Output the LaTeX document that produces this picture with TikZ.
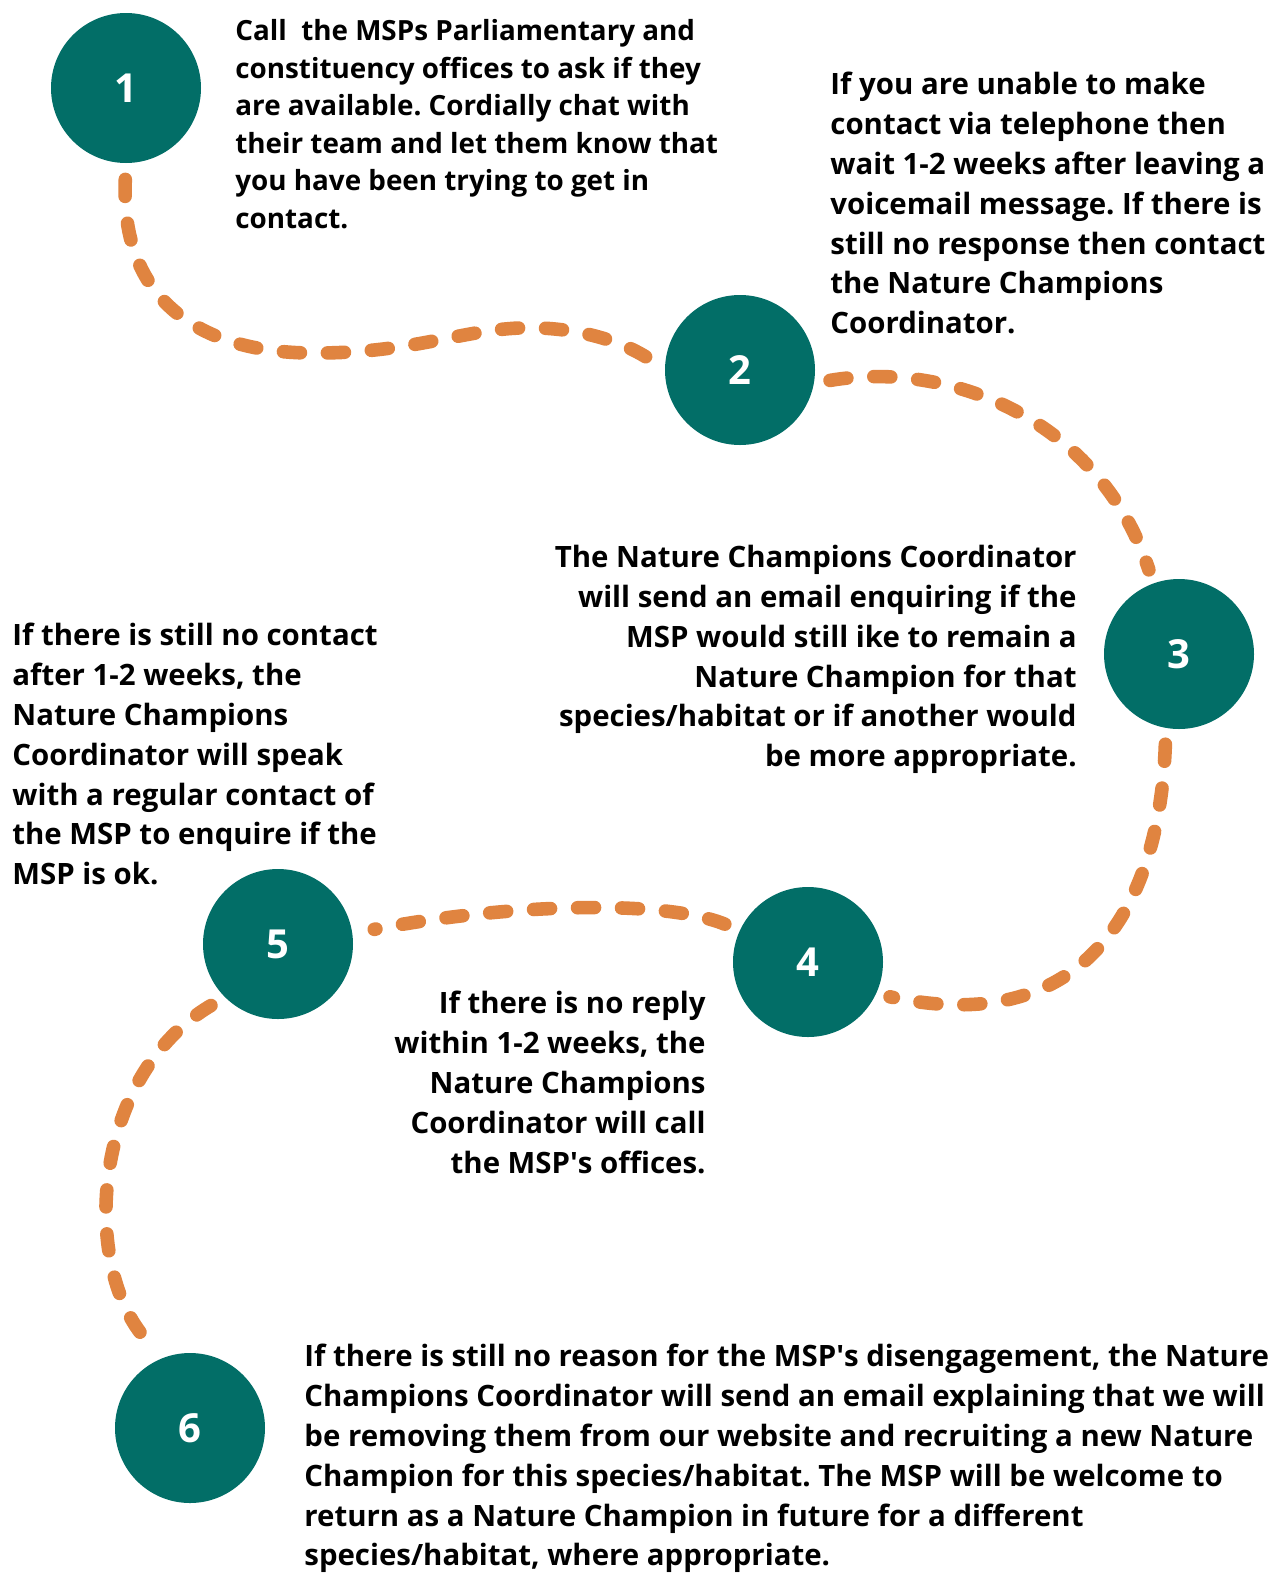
\documentclass[tikz,border=0pt]{standalone}
\usepackage{fontspec}
\setmainfont{Open Sans}
\definecolor{stepteal}{RGB}{2,110,103}
\definecolor{trailorange}{RGB}{224,132,64}
\begin{document}
\frenchspacing
\begin{tikzpicture}[x=0.5pt,y=-0.5pt,
  stepdot/.style={circle, fill=stepteal, minimum size=75pt, inner sep=0pt,
    text=white, font=\fontsize{20pt}{24pt}\selectfont\bfseries},
  trail/.style={draw=trailorange, line width=6.8pt, line cap=round,
    dash pattern=on 8.5pt off 13.5pt, shorten <=8pt, shorten >=7pt},
  para/.style={inner sep=0pt, text=black,
    font=\fontsize{14.7pt}{19.9pt}\selectfont\bfseries},
  parasmall/.style={inner sep=0pt, text=black,
    font=\fontsize{13.9pt}{18.8pt}\selectfont\bfseries}]
\useasboundingbox (0,0) rectangle (1282,1575);
\fill[white] (0,0) rectangle (1282,1575);

% numbered steps
\node[stepdot] (c1) at (126,88) {1};
\node[stepdot] (c2) at (740,370) {2};
\node[stepdot] (c3) at (1179,654) {3};
\node[stepdot] (c4) at (808,962) {4};
\node[stepdot] (c5) at (278,944) {5};
\node[stepdot] (c6) at (190,1428) {6};

% dashed trail linking the steps
\draw[trail] (c1.south) .. controls (120,300) and (200,352) .. (310,353)
  .. controls (420,354) and (470,325) .. (540,328)
  .. controls (590,330) and (630,345) .. (c2.west);
\draw[trail] (c2.-10) .. controls (950,360) and (1100,420) .. (c3.110);
\draw[trail] (c3.-100) .. controls (1160,900) and (1090,1040) .. (c4.-25);
\draw[trail, shorten >=11pt] (c4.155) .. controls (660,898) and (500,905) .. (c5.8);
\draw[trail] (c5.225) .. controls (86,1080) and (80,1280) .. (c6.110);

% step descriptions
\node[parasmall, anchor=north west, align=left] (t1) at (235,19)
  {Call\ \ the MSPs Parliamentary and\\constituency offices to ask if they\\are available. Cordially chat with\\their team and let them know that\\you have been trying to get in\\contact.};
\node[para, anchor=north west, align=left] (t2) at (830,72)
  {If you are unable to make\\contact via telephone then\\wait 1-2 weeks after leaving a\\voicemail message. If there is\\still no response then contact\\the Nature Champions\\Coordinator.};
\node[para, anchor=north east, align=right] (t3) at (1077,545)
  {The Nature Champions Coordinator\\will send an email enquiring if the\\MSP would still ike to remain a\\Nature Champion for that\\species/habitat or if another would\\be more appropriate.};
\node[para, anchor=north east, align=right] (t4) at (706,991)
  {If there is no reply\\within 1-2 weeks, the\\Nature Champions\\Coordinator will call\\the MSP\textquotesingle s offices.};
\node[para, anchor=north west, align=left] (t5) at (12,623)
  {If there is still no contact\\after 1-2 weeks, the\\Nature Champions\\Coordinator will speak\\with a regular contact of\\the MSP to enquire if the\\MSP is ok.};
\node[para, anchor=north west, align=left] (t6) at (304,1344)
  {If there is still no reason for the MSP\textquotesingle s disengagement, the Nature\\Champions Coordinator will send an email explaining that we will\\be removing them from our website and recruiting a new Nature\\Champion for this species/habitat. The MSP will be welcome to\\return as a Nature Champion in future for a different\\species/habitat, where appropriate.};
\end{tikzpicture}
\end{document}
